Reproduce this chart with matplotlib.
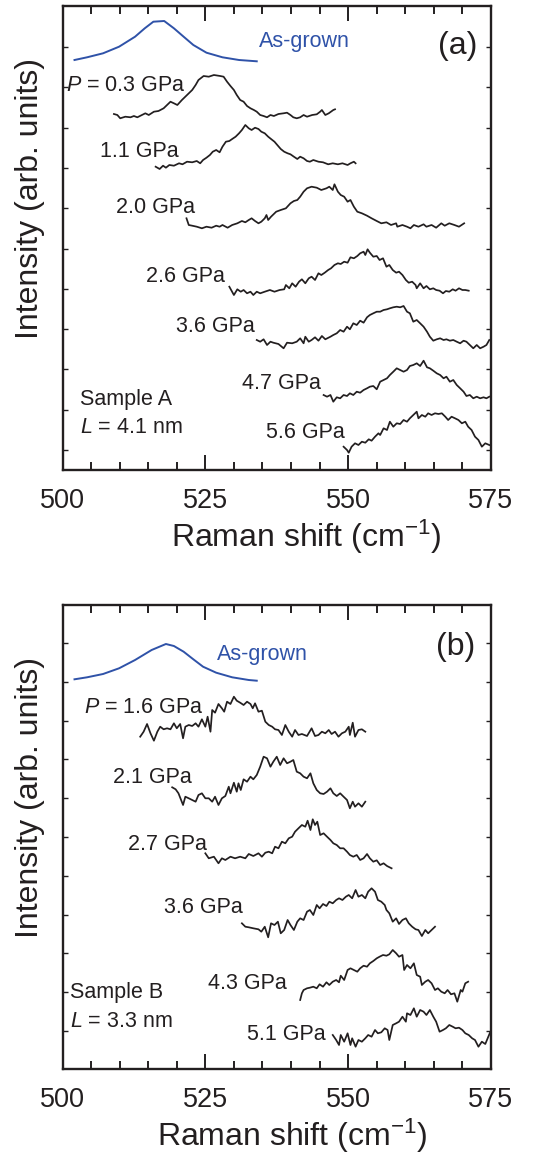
# raman_pressure.py

import numpy as np
import matplotlib
matplotlib.use("Agg")
import matplotlib.pyplot as plt

plt.rcParams["font.family"] = ["Liberation Sans", "DejaVu Sans"]
plt.rcParams["mathtext.fontset"] = "custom"
plt.rcParams["mathtext.rm"] = "Liberation Sans"
plt.rcParams["mathtext.it"] = "Liberation Sans:italic"

# ---- spectra: (Raman shift cm^-1, intensity arb.) ----
# Sample A
a_asg = np.array([(502.1, 410), (504.3, 412.7), (507.1, 416.7), (509.9, 423.3), (512.7, 433.3),
                  (514.4, 441.7), (515.9, 448.3), (517.8, 449), (519.5, 441.7), (521.2, 433.3),
                  (522.9, 425), (525.2, 417.3), (528.0, 412.7), (530.9, 410), (534.0, 408.7)])
a_03 = np.array([(509.0, 356), (509.6, 355), (510.1, 351.7), (511.0, 353.3), (511.9, 352.7), (512.5, 354),
                 (513.1, 352.7), (513.9, 355), (514.5, 356.7), (515.1, 355), (516.0, 358.3), (516.8, 359),
                 (517.7, 361.7), (518.3, 365), (518.9, 368.3), (519.5, 366.7), (520.1, 365), (520.9, 370),
                 (521.8, 375), (522.7, 380), (523.3, 385), (523.8, 390), (524.7, 394), (525.6, 393.3),
                 (526.5, 395), (527.6, 394), (528.2, 393.3), (528.8, 388.3), (529.4, 384), (530.0, 380),
                 (530.5, 375), (531.1, 370), (531.7, 368.3), (532.3, 364), (532.9, 361.7), (533.5, 360),
                 (534.0, 358.3), (534.6, 355), (535.2, 354), (535.8, 352.7), (536.4, 355), (537.0, 354),
                 (537.8, 356), (538.7, 356.7), (539.3, 357.3), (539.9, 355), (540.4, 352.7), (541.0, 351.7),
                 (541.6, 352.7), (542.2, 355), (542.8, 353.3), (543.7, 355), (544.5, 355.7), (545.1, 358.3),
                 (545.4, 360), (546.0, 355), (546.6, 356.7), (547.4, 360), (547.7, 360.7)])
a_11 = np.array([(516.3, 303.3), (517.0, 301.0), (517.6, 304.3), (518.1, 302.3), (518.7, 305.0), (519.5, 304.3),
                 (520.4, 306.7), (521.0, 305.7), (521.8, 308.3), (522.7, 307.7), (523.5, 309.0), (524.1, 306.7),
                 (524.6, 310.0), (525.2, 312.3), (525.8, 315.0), (526.3, 318.3), (526.9, 320.0), (527.5, 317.7),
                 (528.0, 323.3), (528.6, 328.3), (529.2, 329.0), (529.7, 331.0), (530.3, 333.3), (530.9, 336.7),
                 (531.4, 340.0), (532.0, 345.0), (532.6, 341.7), (533.1, 340.0), (533.7, 342.3), (534.3, 341.0),
                 (534.8, 338.3), (535.4, 336.7), (536.0, 333.3), (536.5, 331.0), (537.1, 328.3), (537.7, 324.3),
                 (538.2, 321.0), (538.8, 318.3), (539.4, 316.7), (539.9, 315.7), (540.5, 313.3), (541.1, 311.0),
                 (541.6, 313.3), (542.2, 311.7), (542.8, 309.0), (543.3, 308.3), (543.9, 310.0), (544.8, 308.3),
                 (545.6, 307.7), (546.5, 305.7), (547.3, 306.7), (548.2, 305.7), (549.0, 306.7), (549.9, 305.0),
                 (550.4, 306.7), (551.0, 308.3), (551.3, 306.7)])
a_20 = np.array([(521.7, 251.7), (522.1, 245), (522.7, 244.3), (523.5, 243.3), (524.4, 241.7), (525.2, 243.3),
                 (526.1, 242.3), (526.9, 244.3), (527.5, 243.3), (528.0, 245), (528.9, 242.3), (529.7, 245),
                 (530.6, 246.7), (531.4, 249), (532.0, 247.7), (532.6, 250), (533.1, 251.7), (533.7, 249),
                 (534.3, 246.7), (534.8, 248.3), (535.4, 251.7), (535.7, 255), (536.0, 250), (536.5, 253.3),
                 (537.4, 258.3), (538.2, 260), (539.1, 261.7), (539.9, 266.7), (540.5, 269), (541.1, 270),
                 (541.6, 273.3), (542.2, 278.3), (542.8, 281.7), (543.6, 283.3), (544.5, 282.3), (545.3, 280),
                 (546.2, 281.7), (546.7, 283.3), (547.3, 280), (547.6, 285.7), (548.2, 278.3), (548.7, 275),
                 (549.3, 273.3), (549.9, 268.3), (550.4, 270), (551.0, 263.3), (551.6, 258.3), (552.4, 256.7),
                 (553.3, 254.3), (554.1, 251.7), (555.0, 249), (555.8, 246.7), (556.7, 247.7), (557.5, 245),
                 (558.4, 246.7), (558.6, 243.3), (559.5, 245), (560.3, 243.3), (560.9, 241.7), (561.5, 245),
                 (562.3, 243.3), (563.2, 245.7), (563.7, 243.3), (564.6, 245), (565.4, 242.3), (566.3, 246.7),
                 (566.9, 244.3), (567.7, 246.7), (568.6, 245), (569.4, 243.3), (570.3, 246.7)])
a_26 = np.array([(529.2, 183.3), (530.0, 175), (530.6, 180.7), (531.2, 178.3), (531.7, 180), (532.3, 176.7),
                 (532.9, 178.3), (533.4, 175), (534.0, 178.3), (534.6, 176.7), (535.4, 178.3), (536.3, 180),
                 (537.1, 178.3), (538.0, 180), (538.8, 180.7), (539.1, 185), (539.7, 181.7), (540.2, 186.7),
                 (540.8, 183.3), (541.4, 188.3), (541.9, 190.7), (542.5, 186.7), (543.1, 191.7), (543.6, 193.3),
                 (544.2, 190), (544.8, 196.7), (545.3, 195), (545.9, 197.3), (546.5, 200), (547.0, 201.7),
                 (547.6, 205), (548.2, 206.7), (548.7, 206), (549.3, 208.3), (549.9, 207.3), (550.4, 212.7),
                 (551.0, 211.7), (551.6, 214), (552.1, 216.7), (552.7, 218.3), (553.0, 215), (553.4, 220.7),
                 (553.8, 217.3), (554.4, 213.3), (555.0, 214), (555.5, 210), (556.1, 211.7), (556.7, 203.3),
                 (557.2, 205), (557.8, 200), (558.4, 197.3), (558.9, 198.3), (559.5, 195), (560.1, 190),
                 (560.6, 187.3), (561.2, 188.3), (561.8, 185), (562.0, 181.7), (562.6, 186.7), (563.2, 181.7),
                 (563.7, 184), (564.3, 180.7), (564.9, 181.7), (565.4, 180), (566.0, 179.3), (566.6, 176.7),
                 (567.1, 179), (567.7, 178.3), (568.3, 180.7), (568.8, 179.3), (569.4, 181.7), (570.0, 180),
                 (570.5, 180), (571.1, 179.3)])
a_36 = np.array([(534.0, 130), (534.6, 128.3), (535.2, 130.7), (535.8, 125), (536.4, 128.3), (536.9, 127.3),
                 (537.8, 126), (538.7, 121.7), (539.3, 127.3), (540.2, 126.7), (541.0, 128.3), (541.6, 131.7),
                 (542.2, 126.7), (542.5, 133.3), (543.1, 128.3), (543.6, 130), (544.2, 132.7), (544.8, 129.3),
                 (545.4, 134), (546.0, 130.7), (546.9, 133.3), (547.4, 135), (548.0, 136.7), (548.6, 140),
                 (549.2, 138.3), (549.8, 143.3), (550.3, 140.7), (550.9, 146.7), (551.5, 145), (552.1, 149.3),
                 (552.7, 147.3), (553.3, 152.7), (553.8, 155), (554.4, 156.7), (555.0, 158.3), (555.6, 158.3),
                 (556.2, 160), (556.8, 160.7), (557.3, 161.7), (557.9, 162.7), (558.5, 163.3), (559.1, 162.7),
                 (559.7, 164), (560.3, 158.3), (560.8, 156.7), (561.4, 148.3), (562.0, 150), (562.6, 146.7),
                 (563.2, 143.3), (563.8, 138.3), (564.3, 133.3), (564.9, 129.3), (565.5, 130.7), (566.1, 131.7),
                 (566.7, 130), (567.2, 130.7), (567.8, 129.3), (568.4, 130), (569.0, 128.3), (569.6, 126.7),
                 (570.2, 129.3), (570.7, 128.3), (571.3, 125), (571.9, 121.7), (572.5, 125), (573.1, 121.7),
                 (573.7, 123.3), (574.2, 125), (574.7, 130)])
a_47 = np.array([(545.7, 75), (546.3, 73.3), (546.9, 75), (547.4, 68.3), (548.0, 72.7), (548.6, 71.7),
                 (549.2, 75), (549.8, 74), (550.3, 76.7), (550.9, 75), (551.5, 78.3), (552.1, 77.3),
                 (552.7, 80), (553.3, 81.7), (553.8, 83.3), (554.4, 84), (555.0, 80.7), (555.6, 88.3),
                 (556.2, 90), (556.8, 91.7), (557.3, 95), (557.9, 98.3), (558.5, 101.7), (559.1, 100),
                 (559.7, 98.3), (560.3, 100), (560.8, 104), (561.4, 105), (562.0, 106.7), (562.6, 104),
                 (563.2, 109.3), (563.8, 102.7), (564.3, 101.7), (564.9, 99.3), (565.5, 96.7), (566.1, 95),
                 (566.7, 91.7), (567.2, 93.3), (567.8, 88.3), (568.4, 90), (569.0, 85), (569.6, 81.7),
                 (570.2, 78.3), (570.7, 74), (571.3, 75), (571.9, 71.7), (572.5, 73.3), (573.1, 71.7),
                 (573.7, 72.7), (574.2, 71.7), (574.7, 73.3)])
a_56 = np.array([(549.2, 23.3), (549.8, 20), (550.1, 17.3), (550.6, 23.3), (551.2, 26.7), (551.8, 25),
                 (552.4, 28.3), (553.0, 27.3), (553.6, 30.7), (554.1, 29.3), (554.7, 33.3), (555.3, 36.7),
                 (555.6, 35), (556.2, 41.7), (556.8, 40), (557.3, 48.3), (557.9, 43.3), (558.5, 46.7),
                 (559.1, 46), (559.7, 50), (560.3, 48.3), (560.8, 51.7), (561.4, 55), (562.0, 58.3),
                 (562.3, 51.7), (562.9, 55), (563.5, 53.3), (564.0, 56.7), (564.6, 55), (565.2, 56.7),
                 (565.8, 56), (566.4, 56.7), (567.0, 53.3), (567.5, 50), (568.1, 53.3), (568.7, 51.7),
                 (569.3, 50), (569.9, 46.7), (570.5, 48.3), (571.0, 43.3), (571.6, 40), (572.2, 33.3),
                 (572.8, 30), (573.4, 23.3), (574.0, 26.7), (574.7, 25)])

# Sample B
b_asg = np.array([(502.1, 389.7), (504.3, 391.7), (507.1, 395), (509.9, 400.7), (512.7, 409),
                  (515.6, 419), (518.1, 425), (519.5, 423), (521.2, 417.3), (522.9, 409.7),
                  (524.6, 402.3), (526.9, 396.3), (529.7, 391.7), (532.6, 389), (534.0, 388.3)])
b_16 = np.array([(513.6, 332.3), (514.2, 337.3), (514.8, 345), (515.4, 335.7), (516.0, 328.3), (516.6, 337.3),
                 (517.1, 342.3), (517.7, 339.7), (518.3, 340.7), (518.9, 339.7), (519.5, 345.7), (520.0, 340.7),
                 (520.6, 345), (521.1, 330.7), (521.5, 342.3), (522.1, 344), (522.7, 343), (523.3, 345.7),
                 (523.8, 342.3), (524.4, 349.7), (525.0, 342.3), (525.4, 352.3), (525.9, 337.3), (526.2, 359),
                 (526.7, 356.3), (527.3, 365), (527.9, 360.7), (528.3, 357.3), (528.8, 367.3), (529.4, 365),
                 (530.0, 372.3), (530.5, 368.3), (531.1, 366.3), (531.7, 364), (532.3, 367.3), (532.9, 365),
                 (533.3, 360.7), (533.7, 365.7), (534.3, 357.3), (534.9, 358.3), (535.5, 347.3), (536.1, 344),
                 (536.7, 342.3), (537.2, 339.7), (537.8, 339), (538.4, 334), (539.0, 344), (539.6, 337.3),
                 (540.2, 332.3), (540.7, 339), (541.3, 334), (541.9, 335), (542.8, 333), (543.6, 340.7),
                 (544.2, 333), (544.8, 334), (545.4, 337.3), (546.0, 335.7), (546.6, 339), (547.1, 335),
                 (547.7, 337.3), (548.3, 332.3), (548.9, 335.7), (549.5, 337.3), (550.1, 342.3), (550.3, 334),
                 (550.8, 346.3), (551.2, 332.3), (551.8, 339), (552.4, 339.7), (553.0, 337.3)])
b_21 = np.array([(519.2, 281.7), (519.8, 279.7), (520.3, 275.7), (521.1, 264), (521.5, 272.3), (522.1, 270.7),
                 (522.7, 269), (523.3, 267.3), (523.8, 274), (524.4, 275.7), (525.0, 270.7), (525.6, 270.7),
                 (526.2, 267.3), (526.7, 272.3), (527.3, 264), (527.9, 270.7), (528.5, 273), (529.1, 282.3),
                 (529.4, 275.7), (530.0, 286.3), (530.5, 277.3), (530.8, 285.7), (531.2, 279), (531.7, 289.7),
                 (532.3, 287.3), (532.9, 292.3), (533.4, 289.7), (534.0, 294), (534.6, 302.3), (535.2, 312.3),
                 (535.8, 310.7), (536.4, 302.3), (536.9, 307.3), (537.5, 312.3), (538.1, 304), (538.7, 310.7),
                 (539.3, 305.7), (539.9, 307.3), (540.4, 309), (541.0, 297.3), (541.6, 295.7), (542.2, 292.3),
                 (542.8, 290.7), (543.4, 295.7), (543.9, 285.7), (544.5, 279), (545.1, 275.7), (545.7, 275),
                 (546.3, 277.3), (546.9, 280.7), (547.4, 275.7), (548.0, 273), (548.6, 275.7), (549.2, 272.3),
                 (549.8, 269), (550.3, 260.7), (550.8, 267.3), (551.2, 262.3), (551.8, 265.7), (552.4, 262.3),
                 (553.0, 267.3)])
b_27 = np.array([(525.0, 215.7), (525.6, 210.7), (526.5, 212.3), (527.3, 205.7), (527.9, 210.7), (528.5, 209),
                 (529.4, 212.3), (530.2, 210.7), (531.1, 212.3), (532.0, 210.7), (532.6, 215), (533.4, 213),
                 (534.3, 215.7), (534.9, 212.3), (535.5, 216.3), (536.1, 217.3), (536.7, 215.7), (537.2, 222.3),
                 (537.8, 220.7), (538.4, 227.3), (539.0, 225.7), (539.6, 230.7), (540.2, 232.3), (540.7, 237.3),
                 (541.3, 240.7), (541.9, 244), (542.5, 242.3), (542.9, 248.3), (543.4, 239), (543.8, 249.7),
                 (544.2, 244), (544.6, 247.3), (545.1, 234), (545.7, 235.7), (546.3, 232.3), (546.9, 229),
                 (547.4, 225.7), (548.0, 224), (548.6, 220.7), (549.2, 220.7), (549.8, 217.3), (550.3, 214),
                 (550.9, 212.3), (551.5, 214), (552.1, 209), (552.7, 210.7), (553.3, 215), (553.8, 210.7),
                 (554.4, 207.3), (555.0, 208.7), (555.6, 204), (556.2, 205.7), (556.8, 203), (557.6, 200.7)])
b_36 = np.array([(531.4, 145.7), (532.0, 142.3), (532.6, 141.7), (533.4, 140.7), (534.3, 139.7), (534.8, 137.3),
                 (535.4, 142.3), (536.0, 131.7), (536.5, 145.7), (537.1, 144), (537.7, 147.3), (538.2, 135.7),
                 (538.8, 139), (539.4, 149), (539.9, 144), (540.5, 139), (541.1, 147.3), (541.6, 150.7),
                 (542.2, 149), (542.8, 157.3), (543.3, 159), (543.9, 154), (544.5, 164), (545.0, 160.7),
                 (545.6, 165), (546.2, 163), (546.7, 167.3), (547.3, 165.7), (547.9, 169), (548.4, 170.7),
                 (549.0, 169), (549.6, 172.3), (550.1, 174), (550.7, 170.7), (551.3, 179), (551.8, 172.3),
                 (552.4, 174), (553.0, 170.7), (553.5, 177.3), (554.1, 180.7), (554.7, 177.3), (555.2, 169),
                 (555.8, 167.3), (556.4, 164), (556.7, 159), (557.2, 155.7), (557.8, 147.3), (558.4, 150.7),
                 (558.9, 145), (559.5, 149), (560.1, 150.7), (560.6, 145.7), (561.2, 142.3), (561.8, 139.7),
                 (562.3, 139), (562.9, 133), (563.5, 139), (564.0, 135.7), (564.6, 139), (565.2, 142.3)])
b_43 = np.array([(541.6, 69), (541.9, 75.7), (542.2, 79), (542.8, 80.7), (543.3, 81.3), (543.9, 82.3),
                 (544.5, 80.7), (545.0, 84.7), (545.6, 82.3), (546.2, 86.7), (546.7, 84), (547.3, 87.3),
                 (547.9, 89), (548.4, 86.7), (548.7, 93.3), (549.3, 89), (549.9, 99), (550.4, 100.7),
                 (551.0, 99), (551.6, 97.3), (552.1, 100.7), (552.7, 103.3), (553.3, 102.3), (553.8, 105.7),
                 (554.4, 108), (555.0, 110.7), (555.5, 112.3), (556.1, 114), (556.7, 113.3), (557.2, 114.7),
                 (557.8, 119), (558.4, 115.7), (558.9, 112.3), (559.5, 114), (559.8, 99), (560.3, 104),
                 (560.9, 100.7), (561.5, 105.7), (562.0, 94), (562.6, 92.3), (562.9, 84), (563.5, 87.3),
                 (564.0, 89), (564.6, 85.7), (565.2, 79), (565.7, 80.7), (566.3, 77.3), (566.9, 75.7),
                 (567.4, 79), (568.0, 74.7), (568.6, 75.7), (569.1, 67.3), (569.7, 79), (570.0, 77.3),
                 (570.5, 85.7), (571.0, 87.3)])
b_51 = np.array([(547.3, 34), (547.9, 29), (548.4, 24), (548.7, 34), (549.3, 27.3), (549.9, 35.7),
                 (550.4, 24), (550.7, 30.7), (551.3, 22.3), (551.8, 29), (552.4, 27.3), (553.0, 30.7),
                 (553.5, 34), (554.1, 32.3), (554.7, 39), (555.2, 35.7), (555.8, 36.7), (556.4, 40.7),
                 (556.9, 39), (557.2, 29), (557.8, 44), (558.4, 45.7), (558.9, 47.3), (559.5, 52.3),
                 (560.1, 47.3), (560.3, 55.7), (560.9, 54), (561.5, 60.7), (562.0, 52.3), (562.6, 59),
                 (563.2, 57.3), (563.7, 54), (564.3, 59), (564.9, 52.3), (565.4, 47.3), (566.0, 37.3),
                 (566.6, 39), (567.1, 40.7), (567.7, 44), (568.3, 42.3), (568.8, 40.7), (569.4, 41.3),
                 (570.0, 39), (570.5, 35.7), (571.1, 34), (571.7, 30.7), (572.2, 29), (572.8, 22.3),
                 (573.4, 27.3), (574.0, 25), (574.8, 36)])

spectra_a = [a_03, a_11, a_20, a_26, a_36, a_47, a_56]
spectra_b = [b_16, b_21, b_27, b_36, b_43, b_51]
labels_a = ["$P$ = 0.3 GPa", "1.1 GPa", "2.0 GPa", "2.6 GPa", "3.6 GPa", "4.7 GPa", "5.6 GPa"]
labels_b = ["$P$ = 1.6 GPa", "2.1 GPa", "2.7 GPa", "3.6 GPa", "4.3 GPa", "5.1 GPa"]

# label anchor positions (left edge, baseline) in data coordinates
pos_a = [(500.7, 379), (506.6, 313), (509.3, 257), (514.7, 188), (519.9, 138), (531.5, 81), (535.7, 32)]
pos_b = [(503.7, 356), (508.9, 286), (511.5, 219), (517.7, 156), (525.5, 80), (532.3, 29)]

ink = "#231f20"
blue = "#2f52a8"

fig = plt.figure(figsize=(5.37, 11.54), dpi=100)
W, H = 537, 1154
ax_a = fig.add_axes([62.5 / W, (H - 470) / H, 428.5 / W, 464 / H])
ax_b = fig.add_axes([62.5 / W, (H - 1069) / H, 428.5 / W, 464 / H])

panels = [
    (ax_a, a_asg, spectra_a, labels_a, pos_a, "(a)", (534.3, 423.5), (572.6, 424),
     ["Sample A", "$L$ = 4.1 nm"], (503.1, 65, 37), np.arange(20, 430, 40.3), 0.569),
    (ax_b, b_asg, spectra_b, labels_b, pos_b, "(b)", (527.1, 409), (572.2, 422),
     ["Sample B", "$L$ = 3.3 nm"], (501.4, 71, 42), np.arange(38, 430, 38.8), 0.535),
]

for ax, asg, spectra, labels, pos, tag, asg_pos, tag_pos, sample, sp, yt, xl in panels:
    ax.plot(asg[:, 0], asg[:, 1], color=blue, lw=1.4)
    for s in spectra:
        ax.plot(s[:, 0], s[:, 1], color=ink, lw=1.25)
    for lab, (x, y) in zip(labels, pos):
        ax.text(x, y, lab, fontsize=15.5, color=ink, ha="left", va="baseline")
    ax.text(asg_pos[0], asg_pos[1], "As-grown", fontsize=15.5, color=blue, ha="left", va="baseline")
    ax.text(tag_pos[0], tag_pos[1], tag, fontsize=23, color=ink, ha="right", va="center")
    ax.text(sp[0], sp[1], sample[0], fontsize=15.5, color=ink, ha="left", va="baseline")
    ax.text(sp[0], sp[2], sample[1], fontsize=15.5, color=ink, ha="left", va="baseline")

    ax.set_xlim(500, 575)
    ax.set_ylim(0, 464)
    ax.set_xticks([500, 525, 550, 575])
    ax.set_xticks(np.arange(500, 576, 5), minor=True)
    ax.set_yticks(yt)
    ax.set_yticklabels([])
    ax.tick_params(axis="x", which="major", direction="in", top=True, length=11, width=1.4,
                   pad=13, labelsize=19.5, labelcolor=ink, color=ink)
    ax.tick_params(axis="x", which="minor", direction="in", top=True, length=6, width=1.4, color=ink)
    ax.tick_params(axis="y", which="major", direction="in", left=True, right=True, length=3.5,
                   width=1.0, color=ink)
    for sp_ in ax.spines.values():
        sp_.set_linewidth(1.7)
        sp_.set_color(ink)

    ax.text(xl, -0.167, "Raman shift (cm$^{\\mathrm{-}1}$)", transform=ax.transAxes, fontsize=23,
            color=ink, ha="center", va="baseline")
    ax.text(-0.0747, 0.586, "Intensity (arb. units)", transform=ax.transAxes, fontsize=23,
            color=ink, ha="center", va="center", rotation=90)

fig.savefig("out.png", dpi=100)
